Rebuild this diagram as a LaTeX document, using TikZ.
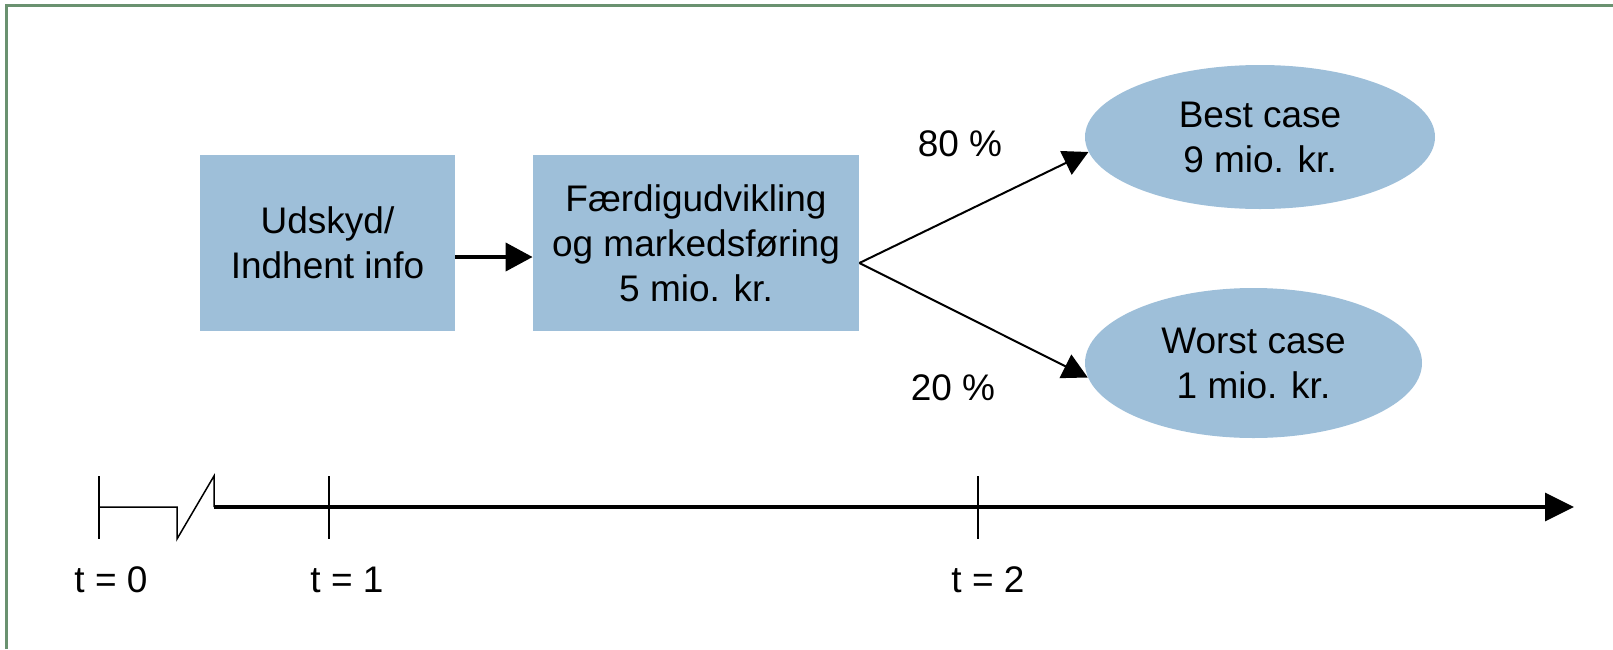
\documentclass[tikz,border=0pt]{standalone}
\usepackage{fontspec}
\setmainfont{Liberation Sans}
\usetikzlibrary{arrows.meta,shapes.geometric}
\definecolor{boxblue}{RGB}{158,191,217}
\definecolor{framegreen}{RGB}{106,146,112}
\begin{document}
\begin{tikzpicture}[x=0.5pt,y=-0.5pt,
  every node/.style={font=\fontsize{18.5pt}{22.5pt}\selectfont, align=center, text=black},
  stepbox/.style={rectangle, fill=boxblue, draw=none, inner sep=0pt},
  outcome/.style={ellipse, fill=boxblue, draw=none, inner sep=0pt},
  lbl/.style={inner sep=0pt},
  flowarrow/.style={line width=2pt, -{Triangle[length=13.5pt,width=14pt]}},
  fanarrow/.style={line width=1pt, -{Triangle[length=12.5pt,width=13pt]}},
  thinline/.style={line width=0.75pt},
  axisline/.style={line width=1.6pt, -{Triangle[length=14.5pt,width=14pt]}}
]
\useasboundingbox (0,0) rectangle (1613,649);
% frame (top and left)
\draw[framegreen, line width=1.5pt] (6.5,649) -- (6.5,5.5) -- (1613,5.5);

% boxes
\node[stepbox, minimum width=127.5pt, minimum height=88pt] (b1) at (327.5,243) {Udskyd/\\Indhent info};
\node[stepbox, minimum width=163pt, minimum height=88pt] (b2) at (696,243) {Færdigudvikling\\og markedsføring\\5 mio. kr.};

% outcomes
\node[outcome, minimum width=175pt, minimum height=72pt] (best) at (1260,137) {Best case\\9 mio. kr.};
\node[outcome, minimum width=168.5pt, minimum height=75pt] (worst) at (1253.5,363) {Worst case\\1 mio. kr.};

% connectors
\draw[flowarrow] ([yshift=-7pt]b1.east) -- ([yshift=-7pt]b2.west);
\coordinate (fan) at ([yshift=-10pt]b2.east);
\draw[fanarrow] (fan) -- (best.185);
\draw[fanarrow] (fan) -- (worst.185);

% probabilities
\node[lbl] (p80) at (960,144) {80 \%};
\node[lbl] (p20) at (953,388) {20 \%};

% timeline
\coordinate (t0) at (99,507);
\coordinate (brkA) at (177,507);
\coordinate (brkB) at (177,539);
\coordinate (brkC) at (214,476);
\coordinate (brkD) at (214,507);
\coordinate (t1) at (329,507);
\coordinate (t2) at (978,507);
\coordinate (tend) at (1574,507);

\draw[thinline] ([yshift=15.5pt]t0) -- ([yshift=-16pt]t0);
\draw[thinline] (t0) -- (brkA) -- (brkB) -- (brkC) -- (brkD);
\draw[axisline] (brkD) -- (tend);
\draw[thinline] ([yshift=15.5pt]t1) -- ([yshift=-16pt]t1);
\draw[thinline] ([yshift=15.5pt]t2) -- ([yshift=-16pt]t2);

\node[lbl] (l0) at (111,580) {t = 0};
\node[lbl] (l1) at (347,580) {t = 1};
\node[lbl] (l2) at (988,580) {t = 2};
\end{tikzpicture}
\end{document}
